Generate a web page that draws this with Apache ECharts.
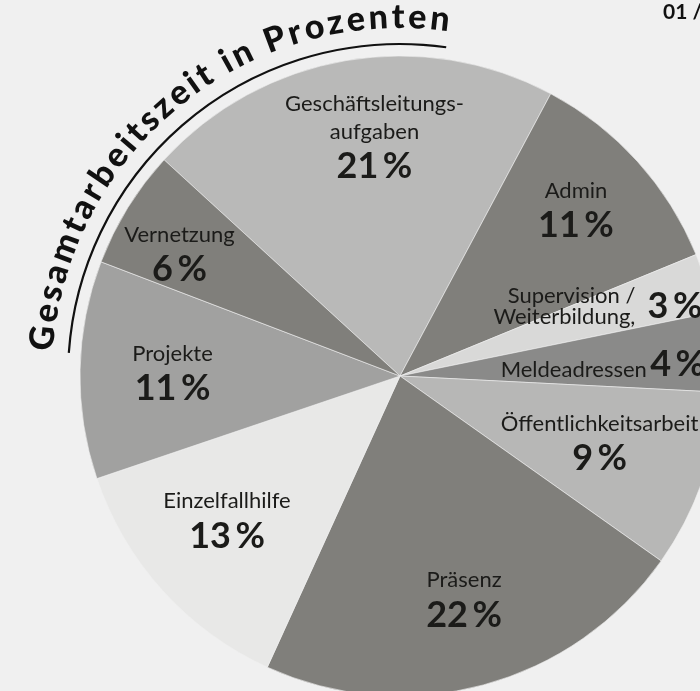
<!DOCTYPE html>
<html>
<head>
<meta charset="utf-8">
<script src="https://cdn.jsdelivr.net/npm/echarts@6/dist/echarts.min.js"></script>
<style>
  html, body { margin: 0; padding: 0; background: #f0f0f0; }
  #chart { width: 700px; height: 691px; }
</style>
</head>
<body>
<div id="chart"></div>
<script>
const categories = [
  "Geschäftsleitungs-\naufgaben",
  "Admin",
  "Supervision /\nWeiterbildung,",
  "Meldeadressen",
  "Öffentlichkeitsarbeit",
  "Präsenz",
  "Einzelfallhilfe",
  "Projekte",
  "Vernetzung"
];
const shares = [21, 11, 3, 4, 9, 22, 13, 11, 6];
const titleText = "Gesamtarbeitszeit in Prozenten";
const cornerText = "01 /";

// look of each slice (style only)
const sliceColors = ["#b9b9b8", "#807f7b", "#d9d9d8", "#8a8a89", "#b7b7b6", "#807f7b", "#e8e8e7", "#a1a1a0", "#807f7b"];
// how the label of each slice is laid out, and a nudge from the default spot
const labelKind = ["stack", "stack", "side", "inline", "stack", "stack", "stack", "stack", "stack"];
const labelShift = [[14, -6], [2, -7], [-60, -1], [-31, 6], [-22, -8], [3, -1], [1, -11], [7, 3], [-21, 3]];

const cx = 400, cy = 376, R = 320;
const fontFamily = "Lato, 'Noto Sans', sans-serif";
const ink = "#1b1b19";

let myChart = echarts.init(document.getElementById("chart"), null, { renderer: "canvas" });

function pct(v) {
  return v + "\u2009%";
}

function ringLabel(p) {
  let kind = labelKind[p.dataIndex];
  let lines = p.name.split("\n");
  if (kind === "side") {
    return lines.map(s => "{r|" + s + "}").join("\n");
  }
  if (kind === "inline") {
    return "{m|" + p.name + "} {p|" + pct(p.value) + "}";
  }
  return lines.map(s => "{n|" + s + "}").join("\n") + "\n{p|" + pct(p.value) + "}";
}

const richStyles = {
  n: { fontFamily: fontFamily, fontSize: 22, lineHeight: 28, color: ink },
  r: { fontFamily: fontFamily, fontSize: 22, lineHeight: 21, color: ink, align: "right" },
  m: { fontFamily: fontFamily, fontSize: 22, lineHeight: 28, color: ink, padding: [10, 0, 0, 0] },
  p: { fontFamily: fontFamily, fontSize: 36, fontWeight: "bold", lineHeight: 42, color: ink }
};

// curved title built letter by letter along an arc
function curvedTitle() {
  let font = "900 34px " + fontFamily;
  let ctx = document.createElement("canvas").getContext("2d");
  ctx.font = font;
  let chars = Array.from(titleText);
  let widths = chars.map(ch => ctx.measureText(ch).width);
  let baseR = 342;
  let startDeg = 176, endDeg = 82;
  let arcLen = (startDeg - endDeg) * Math.PI / 180 * baseR;
  let glyphSum = widths.reduce((a, b) => a + b, 0);
  let tracking = (arcLen - glyphSum) / (chars.length - 1);
  let out = [];
  let s = 0;
  chars.forEach((ch, i) => {
    let mid = s + widths[i] / 2;
    let theta = (startDeg * Math.PI / 180) - mid / baseR;
    out.push({
      type: "text",
      x: cx + baseR * Math.cos(theta),
      y: cy - baseR * Math.sin(theta),
      rotation: theta - Math.PI / 2,
      silent: true,
      style: {
        text: ch,
        font: font,
        fill: "#111111",
        align: "center",
        verticalAlign: "bottom"
      }
    });
    s += widths[i] + tracking;
  });
  return out;
}

let option = {
  backgroundColor: "#f0f0f0",
  animation: false,
  graphic: [
    {
      type: "arc",
      silent: true,
      shape: {
        cx: cx,
        cy: cy,
        r: 332,
        startAngle: 184 * Math.PI / 180,
        endAngle: 278 * Math.PI / 180,
        clockwise: true
      },
      style: { stroke: "#111111", lineWidth: 2.2, fill: null }
    },
    {
      type: "text",
      left: 663,
      top: 2,
      silent: true,
      style: { text: cornerText, font: "bold 21px " + fontFamily, fill: "#111111" }
    }
  ].concat(curvedTitle()),
  series: [
    {
      // the visible pie
      type: "pie",
      center: [cx, cy],
      radius: [0, R],
      startAngle: 137.5,
      clockwise: true,
      avoidLabelOverlap: false,
      silent: true,
      emphasis: { disabled: true },
      itemStyle: { borderColor: "#f0f0f0", borderWidth: 0.6 },
      labelLine: { show: false },
      data: categories.map((name, i) => ({
        name: name,
        value: shares[i],
        itemStyle: { color: sliceColors[i] },
        label: labelKind[i] === "side"
          ? { show: true, position: "inside", formatter: p => "{p|" + pct(p.value) + "}", rich: richStyles, offset: [119, -22] }
          : { show: false }
      }))
    },
    {
      // transparent ring that only carries the labels further out
      type: "pie",
      center: [cx, cy],
      radius: [143, R],
      startAngle: 137.5,
      clockwise: true,
      avoidLabelOverlap: false,
      silent: true,
      emphasis: { disabled: true },
      itemStyle: { color: "rgba(0,0,0,0)", borderWidth: 0 },
      labelLine: { show: false },
      label: {
        show: true,
        position: "inside",
        formatter: ringLabel,
        rich: richStyles
      },
      data: categories.map((name, i) => ({
        name: name,
        value: shares[i],
        label: { offset: labelShift[i] }
      }))
    }
  ]
};

myChart.setOption(option);
</script>
</body>
</html>
